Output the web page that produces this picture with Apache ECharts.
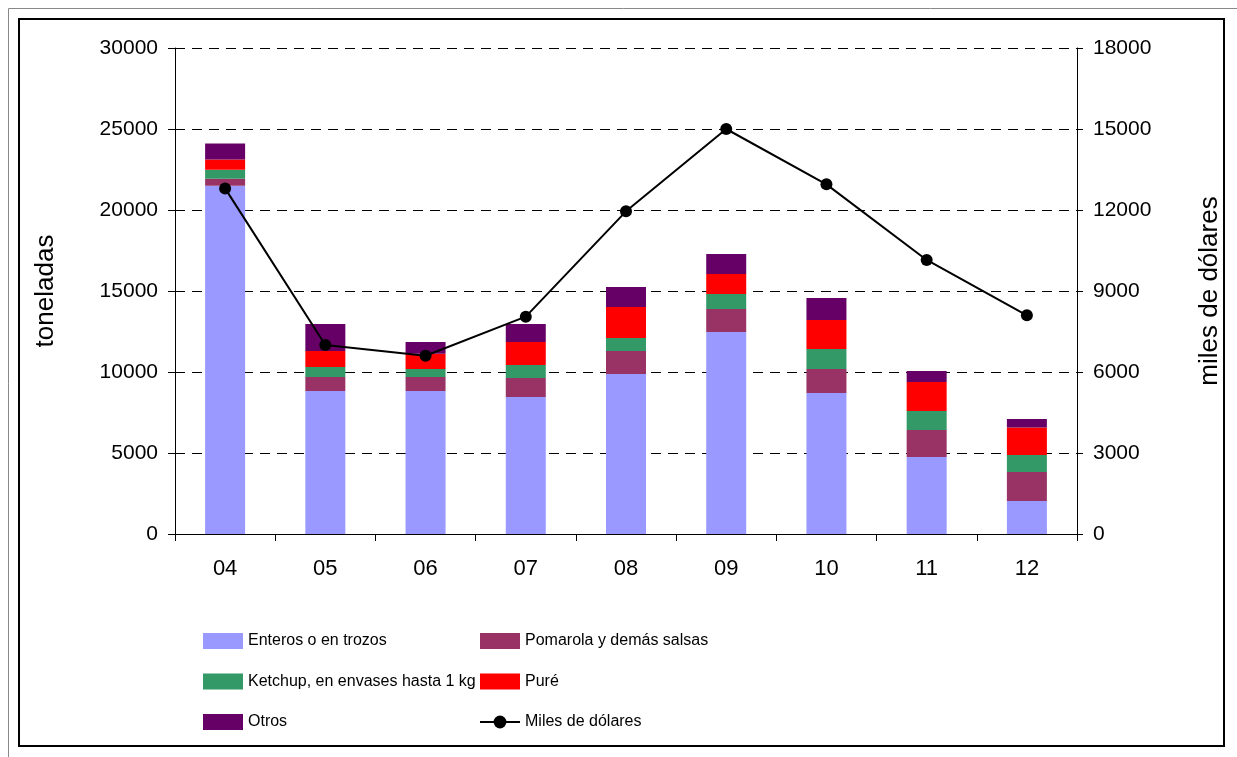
<!DOCTYPE html>
<html>
<head>
<meta charset="utf-8">
<script src="https://cdn.jsdelivr.net/npm/echarts@6/dist/echarts.min.js"></script>
<style>
  html, body { margin: 0; padding: 0; background: #fff; }
  #chart { width: 1237px; height: 757px; }
</style>
</head>
<body>
<div id="chart"></div>
<script>
// años (eje x)
const years = ['04', '05', '06', '07', '08', '09', '10', '11', '12'];

// toneladas por producto
const enteros = [21500, 8830, 8830, 8460, 9880, 12470, 8700, 4750, 2040];
const pomarola = [430, 860, 860, 1170, 1420, 1420, 1480, 1670, 1790];
const ketchup = [560, 620, 500, 800, 800, 930, 1240, 1170, 1050];
const pure = [620, 990, 940, 1420, 1910, 1230, 1790, 1790, 1690];
const otros = [1000, 1670, 720, 1110, 1240, 1230, 1360, 680, 530];

// miles de dólares (eje derecho)
const miles = [12800, 7000, 6600, 8050, 11950, 15000, 12950, 10150, 8100];

const FONT = "'Liberation Sans', Arial, sans-serif";

const chart = echarts.init(document.getElementById('chart'));

const barSeries = (name, data, color) => ({
    name: name,
    type: 'bar',
    stack: 'ton',
    barWidth: 40,
    data: data,
    itemStyle: { color: color },
    emphasis: { disabled: true }
});

const legendCommon = {
    orient: 'vertical',
    top: 633,
    padding: 0,
    itemWidth: 40,
    itemHeight: 16,
    itemGap: 24.5,
    textStyle: { fontFamily: FONT, fontSize: 16, color: '#000', lineHeight: 16 }
};

const option = {
    animation: false,
    backgroundColor: '#fff',
    textStyle: { fontFamily: FONT },
    graphic: [
        {
            type: 'rect',
            shape: { x: 8.5, y: 8.5, width: 1240, height: 760 },
            style: { fill: 'none', stroke: '#888', lineWidth: 1 }
        },
        {
            type: 'rect',
            shape: { x: 19, y: 19, width: 1205, height: 727 },
            style: { fill: 'none', stroke: '#000', lineWidth: 2 }
        }
    ],
    grid: { left: 175, right: 160, top: 48, bottom: 223 },
    legend: [
        Object.assign({}, legendCommon, {
            left: 203,
            data: [
                { name: 'Enteros o en trozos', icon: 'rect' },
                { name: 'Ketchup, en envases hasta 1 kg', icon: 'rect' },
                { name: 'Otros', icon: 'rect' }
            ]
        }),
        Object.assign({}, legendCommon, {
            left: 479,
            data: [
                { name: 'Pomarola y demás salsas', icon: 'rect' },
                { name: 'Puré', icon: 'rect' },
                { name: 'Miles de dólares' }
            ]
        })
    ],
    xAxis: {
        type: 'category',
        data: years,
        axisLine: { lineStyle: { color: '#000', width: 1 } },
        axisTick: { show: true, length: 7, lineStyle: { color: '#000' } },
        axisLabel: { fontSize: 22, color: '#000', margin: 24, fontFamily: FONT }
    },
    yAxis: [
        {
            type: 'value',
            min: 0,
            max: 30000,
            interval: 5000,
            name: 'toneladas',
            nameLocation: 'middle',
            nameRotate: 90,
            nameGap: 116,
            nameTextStyle: { fontSize: 26, color: '#000', fontFamily: FONT },
            axisLine: { show: true, lineStyle: { color: '#000' } },
            axisTick: { show: true, length: 7, lineStyle: { color: '#000' } },
            axisLabel: { fontSize: 21, color: '#000', margin: 17, fontFamily: FONT, formatter: v => String(v) },
            splitLine: { show: true, lineStyle: { color: '#000', type: [10, 7], width: 1 } }
        },
        {
            type: 'value',
            min: 0,
            max: 18000,
            interval: 3000,
            position: 'right',
            name: 'miles de dólares',
            nameLocation: 'middle',
            nameRotate: 90,
            nameGap: 120,
            nameTextStyle: { fontSize: 26, color: '#000', fontFamily: FONT },
            axisLine: { show: true, lineStyle: { color: '#000' } },
            axisTick: { show: true, length: 6, lineStyle: { color: '#000' } },
            axisLabel: { fontSize: 21, color: '#000', margin: 16, fontFamily: FONT, formatter: v => String(v) },
            splitLine: { show: false }
        }
    ],
    series: [
        barSeries('Enteros o en trozos', enteros, '#9999FF'),
        barSeries('Pomarola y demás salsas', pomarola, '#993366'),
        barSeries('Ketchup, en envases hasta 1 kg', ketchup, '#339966'),
        barSeries('Puré', pure, '#FF0000'),
        barSeries('Otros', otros, '#660066'),
        {
            name: 'Miles de dólares',
            type: 'line',
            yAxisIndex: 1,
            data: miles,
            symbol: 'circle',
            symbolSize: 12,
            z: 5,
            itemStyle: { color: '#000' },
            lineStyle: { color: '#000', width: 2 },
            emphasis: { disabled: true }
        }
    ]
};

chart.setOption(option);
</script>
</body>
</html>
